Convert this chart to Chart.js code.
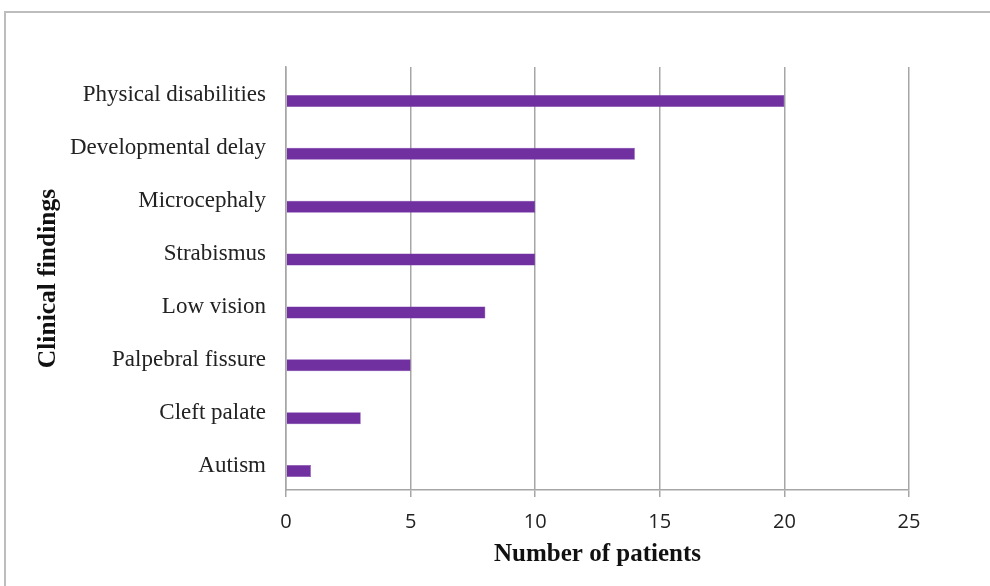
<!DOCTYPE html>
<html>
<head>
<meta charset="utf-8">
<script src="https://cdn.jsdelivr.net/npm/chart.js@4.4.0/dist/chart.umd.min.js"></script>
<style>
  html, body { margin: 0; padding: 0; background: #ffffff; }
  #wrap { width: 990px; height: 586px; position: relative; }
</style>
</head>
<body>
<div id="wrap"><canvas id="c"></canvas></div>
<script>
const categories = ['Physical disabilities', 'Developmental delay', 'Microcephaly', 'Strabismus', 'Low vision', 'Palpebral fissure', 'Cleft palate', 'Autism'];
const patients = [20, 14, 10, 10, 8, 5, 3, 1];
const xTicks = [0, 5, 10, 15, 20, 25];
const xTitle = 'Number of patients';
const yTitle = 'Clinical findings';

const spacer = categories.map(() => null);

const framePlugin = {
  id: 'frame',
  beforeDraw(chart) {
    const ctx = chart.ctx;
    ctx.save();
    ctx.strokeStyle = '#bdbdbd';
    ctx.lineWidth = 2;
    ctx.beginPath();
    ctx.moveTo(5, 586);
    ctx.lineTo(5, 12);
    ctx.lineTo(990, 12);
    ctx.stroke();
    ctx.restore();
  }
};

new Chart(document.getElementById('c'), {
  type: 'bar',
  data: {
    labels: categories,
    datasets: [
      { label: '', data: spacer, backgroundColor: 'rgba(0,0,0,0)' },
      { label: xTitle, data: patients, backgroundColor: '#7030a0', borderColor: '#7a3eaa', borderWidth: 0.5 }
    ]
  },
  options: {
    indexAxis: 'y',
    responsive: true,
    maintainAspectRatio: false,
    animation: false,
    categoryPercentage: 0.567,
    barPercentage: 0.8,
    layout: { padding: { left: 12, right: 81, top: 67, bottom: 10 } },
    plugins: { legend: { display: false }, tooltip: { enabled: false } },
    scales: {
      x: {
        min: 0, max: 25,
        afterBuildTicks(s) { s.ticks = xTicks.map(v => ({ value: v })); },
        grid: { color: '#a6a6a6', lineWidth: 1.5, tickLength: 7, drawTicks: true },
        border: { color: '#a6a6a6', width: 1.5 },
        ticks: { color: '#222', padding: 13, font: { family: 'Open Sans', size: 20 } },
        title: { display: true, text: xTitle, color: '#111', font: { family: 'Liberation Serif', size: 25, weight: 'bold' }, padding: { top: 4, bottom: 6 } },
        afterFit(s) { s.height = 86; }
      },
      y: {
        grid: { display: false, drawTicks: false },
        border: { color: '#a6a6a6', width: 1.5 },
        ticks: { color: '#222', padding: 20, labelOffset: 2, font: { family: 'Liberation Serif', size: 23 } },
        title: { display: true, text: yTitle, color: '#111', font: { family: 'Liberation Serif', size: 25.5, weight: 'bold' }, padding: { top: 21, bottom: 0 } },
        afterFit(s) { s.width = 286 - 12; }
      }
    }
  },
  plugins: [framePlugin]
});
</script>
</body>
</html>
